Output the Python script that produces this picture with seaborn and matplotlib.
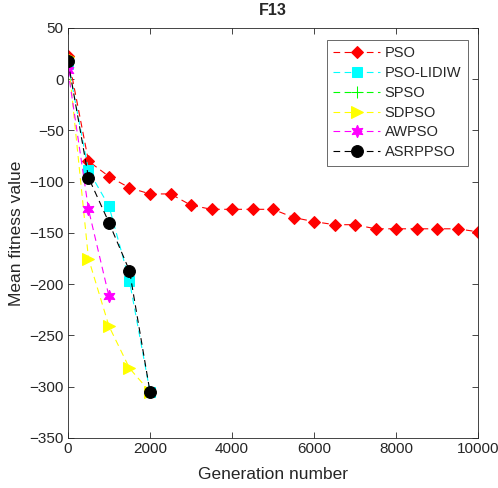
import matplotlib
matplotlib.use("Agg")
import matplotlib.pyplot as plt
import seaborn as sns
import pandas as pd

sns.set_style("ticks")
plt.rcParams['font.family'] = ['Liberation Sans', 'DejaVu Sans']

gens_pso = [0, 500, 1000, 1500, 2000, 2500, 3000, 3500, 4000, 4500, 5000,
            5500, 6000, 6500, 7000, 7500, 8000, 8500, 9000, 9500, 10000]
pso = [23, -80, -95, -106, -112, -112, -123, -127, -127, -127, -127,
       -135, -139, -142, -142, -146, -146, -146, -146, -146, -149]
gens_short = [0, 500, 1000, 1500, 2000]
pso_lidiw = [15, -89, -124, -197, -305]
gens_spso = [0]
spso = [16]
sdpso = [22, -175, -241, -282, -305]
gens_awpso = [0, 500, 1000]
awpso = [9, -127, -212]
asrppso = [18, -96, -140, -187, -305]

series = [
    ("PSO", gens_pso, pso, "#ff0000", "D", 6.5),
    ("PSO-LIDIW", gens_short, pso_lidiw, "#00ffff", "s", 6.5),
    ("SPSO", gens_spso, spso, "#00ff00", "+", 8),
    ("SDPSO", gens_short, sdpso, "#ffff00", ">", 8.5),
    ("AWPSO", gens_awpso, awpso, "#ff00ff", (6, 1, 0), 9),
    ("ASRPPSO", gens_short, asrppso, "#000000", "o", 8.5),
]

fig = plt.figure(figsize=(4.98, 4.88), dpi=100)
ax = fig.add_axes([0.1365, 0.1025, 0.8235, 0.8405])

for name, xs, ys, col, mk, ms in series:
    df = pd.DataFrame({"x": xs, "y": ys})
    sns.lineplot(data=df, x="x", y="y", ax=ax, color=col, marker=mk,
                 markersize=ms, markeredgecolor=col, markerfacecolor=col,
                 linewidth=0.8, label=name, dashes=False)
    ax.lines[-1].set_linestyle((0, (6, 4)))

ax.set_xlim(0, 10000)
ax.set_ylim(-350, 50)
ax.set_xticks(range(0, 10001, 2000))
ax.set_yticks(range(-350, 51, 50))
ax.tick_params(direction="in", top=True, right=True, labelsize=11, length=4,
               width=0.6, colors="#262626", pad=3)
for s in ax.spines.values():
    s.set_visible(True)
    s.set_linewidth(0.6)
    s.set_color("#262626")
ax.set_xlabel("Generation number", fontsize=12.5, labelpad=8)
ax.set_ylabel("Mean fitness value", fontsize=12.5, labelpad=4)
ax.set_title("F13", fontsize=11.5, fontweight="bold", pad=9)

leg = ax.legend(loc="upper right", bbox_to_anchor=(0.985, 0.982), fontsize=10.5,
                frameon=True, fancybox=False, edgecolor="#262626",
                handlelength=3.2, borderpad=0.45, labelspacing=0.4,
                handletextpad=0.3, borderaxespad=0.3)
leg.get_frame().set_linewidth(0.6)

fig.savefig("out.png", dpi=100)
